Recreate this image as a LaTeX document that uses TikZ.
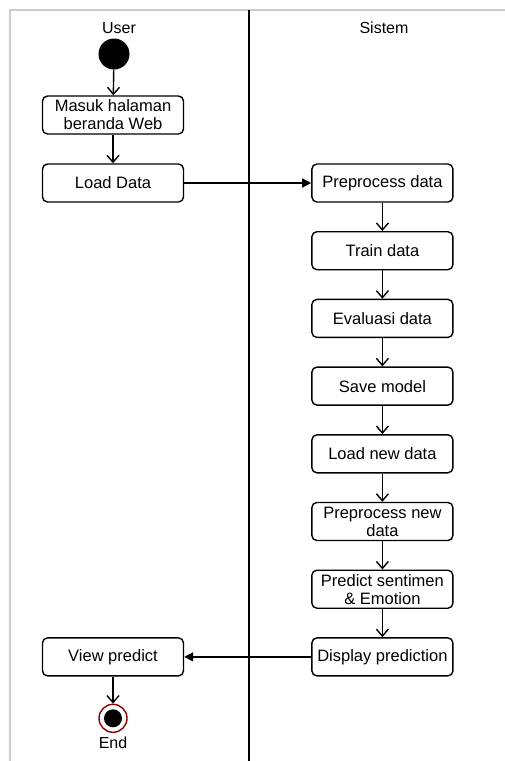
\documentclass[tikz,border=0pt]{standalone}
\usepackage{fontspec}
\setmainfont{Liberation Sans}
\usetikzlibrary{arrows.meta,positioning}

\begin{document}
\begin{tikzpicture}[x=1pt, y=1pt,
        activity/.style={rectangle, draw=black, rounded corners=5pt, line width=1.4pt,
        minimum width=141pt, minimum height=38pt, inner sep=1pt, align=center,
        font=\fontsize{16.5}{18}\selectfont},
        lane/.style={font=\fontsize{16}{18}\selectfont},
        flow/.style={line width=1.4pt, -{Straight Barb[length=7pt,width=12pt,line width=1.4pt]}},
        call/.style={line width=1.4pt, -{Triangle[length=9pt,width=9pt]}},
        node distance=28.3pt]
        \useasboundingbox (0,0) rectangle (505,-761);

        % swimlanes
        \draw [gray!40, line width=2pt] (10,-761) -- (10,-10) -- (505,-10);
        \draw [line width=1.4pt] (249,-10) -- (249,-761);
        \node (user) [lane] at (119,-28) {User};
        \node (sistem) [lane] at (384,-28) {Sistem};

        \node (start) [circle, fill=black, minimum size=31pt, inner sep=0pt] at (114,-54) {};
        \node (masuk) [activity] at (113,-115) {Masuk halaman\\beranda Web};
        \node (load) [activity, below=28.6pt of masuk] {Load Data};

        \node (preprocess) [activity, right=127pt of load] {Preprocess data};
        \node (train) [activity, below=of preprocess] {Train data};
        \node (evaluasi) [activity, below=of train] {Evaluasi data};
        \node (save) [activity, below=of evaluasi] {Save model};
        \node (loadnew) [activity, below=of save] {Load new data};
        \node (prepnew) [activity, below=of loadnew] {Preprocess new\\data};
        \node (predict) [activity, below=of prepnew] {Predict sentimen\\\& Emotion};
        \node (display) [activity, below=of predict] {Display prediction};

        \node (view) [activity, left=127pt of display] {View predict};
        \node (end) [circle, draw=red!55!black, fill=white, line width=1.4pt, minimum size=28pt, inner sep=0pt, below=27pt of view] {};
        \node (endcore) [circle, fill=black, minimum size=18pt, inner sep=0pt] at (end.center) {};
        \node (endlabel) [lane, below=0pt of end] {End};

        \draw [flow] (start) -- (masuk);
        \draw [flow] (masuk) -- (load);
        \draw [call] (load) -- (preprocess);
        \draw [flow] (preprocess) -- (train);
        \draw [flow] (train) -- (evaluasi);
        \draw [flow] (evaluasi) -- (save);
        \draw [flow] (save) -- (loadnew);
        \draw [flow] (loadnew) -- (prepnew);
        \draw [flow] (prepnew) -- (predict);
        \draw [flow] (predict) -- (display);
        \draw [call] (display) -- (view);
        \draw [flow] (view) -- (end);
    \end{tikzpicture}
\end{document}
